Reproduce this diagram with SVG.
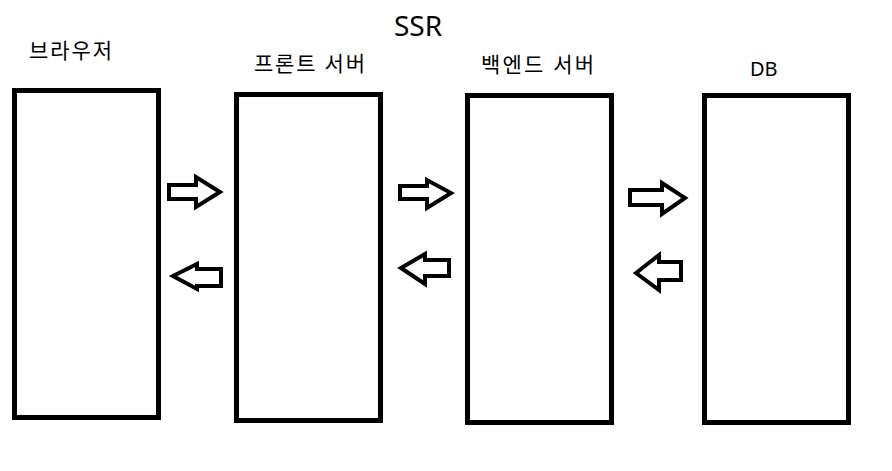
<svg xmlns="http://www.w3.org/2000/svg" width="892" height="471" viewBox="0 0 892 471">
<style>
.box{fill:#fff;stroke:#000;stroke-width:5}
.arr{fill:#fff;stroke:#000;stroke-width:4;stroke-linejoin:miter}
.lbl{font-family:"Noto Sans","Noto Sans CJK KR",sans-serif;font-size:21px;fill:#000}
.lat{font-family:"Noto Sans",sans-serif;font-size:20px;fill:#000}
.title{font-family:"Noto Sans",sans-serif;font-size:28px;fill:#000}
</style>
<rect width="892" height="471" fill="#fff"/>
<text class="title" x="394" y="36">SSR</text>
<g id="browser">
<rect class="box" x="14.5" y="90.5" width="144" height="327"/>
<text class="lbl" x="29" y="58" textLength="83" lengthAdjust="spacing">브라우저</text>
</g>
<g id="front">
<rect class="box" x="236.5" y="94.5" width="144" height="326"/>
<text class="lbl" x="254" y="71" textLength="111" lengthAdjust="spacing">프론트 서버</text>
</g>
<g id="backend">
<rect class="box" x="467.5" y="95.5" width="144" height="327"/>
<text class="lbl" x="481" y="72" textLength="113" lengthAdjust="spacing">백엔드 서버</text>
</g>
<g id="db">
<rect class="box" x="704.5" y="95.5" width="144" height="327"/>
<text class="lat" x="750" y="76">DB</text>
</g>
<g id="connectors">
<path class="arr" d="M169,185 H196 V177 L220,192 L196,207 V199 H169 Z"/>
<path class="arr" d="M173,276 L197,264 V269 H221 V286 H197 V289 Z"/>
<path class="arr" d="M400,186 H427 V180 L451,193 L427,208 V199 H400 Z"/>
<path class="arr" d="M401,268 L425,254 V260 H449 V276 H425 V284 Z"/>
<path class="arr" d="M630,190 H662 V183 L685,198 L662,214 V205 H630 Z"/>
<path class="arr" d="M636,273 L659,255 V262 H681 V280 H659 V290 Z"/>
</g>
</svg>
